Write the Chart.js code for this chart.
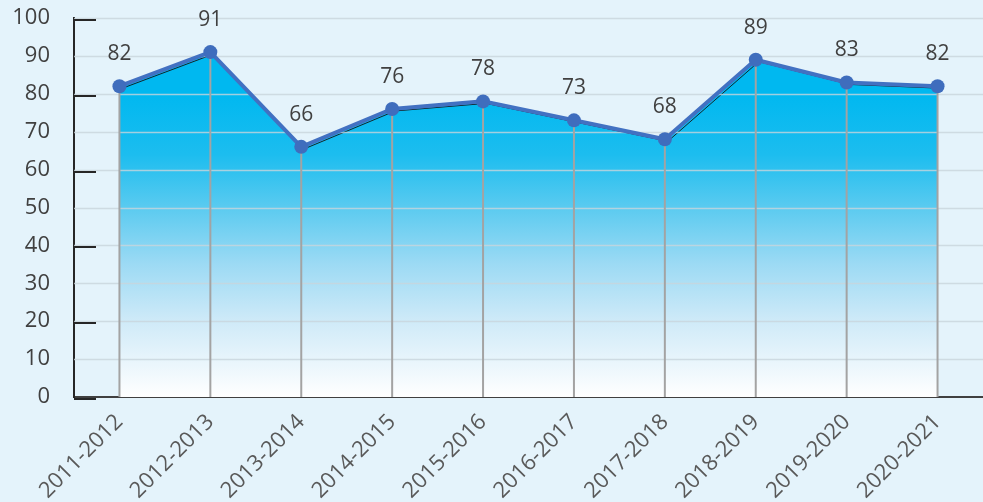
<!DOCTYPE html>
<html>
<head>
<meta charset="utf-8">
<script src="https://cdn.jsdelivr.net/npm/chart.js@4.4.1/dist/chart.umd.min.js"></script>
<style>
  html, body { margin: 0; padding: 0; background: #e4f3fb; }
  #wrap { width: 983px; height: 502px; }
</style>
</head>
<body>
<div id="wrap"><canvas id="areaChart" width="983" height="502"></canvas></div>
<script>
// data
const seasons = ['2011-2012', '2012-2013', '2013-2014', '2014-2015', '2015-2016',
                 '2016-2017', '2017-2018', '2018-2019', '2019-2020', '2020-2021'];
const scores = [82, 91, 66, 76, 78, 73, 68, 89, 83, 82];
const yTicks = [0, 10, 20, 30, 40, 50, 60, 70, 80, 90, 100];
const yMajor = [0, 20, 40, 60, 80, 100];

const FONT = "'Open Sans', 'DejaVu Sans', sans-serif";

// blue to white gradient under the line
function areaGradient(context) {
  const chart = context.chart;
  const area = chart.chartArea;
  if (!area) return '#00b8f0';
  const y = chart.scales.y;
  const g = chart.ctx.createLinearGradient(0, y.getPixelForValue(80), 0, y.getPixelForValue(0));
  g.addColorStop(0, '#00b8f0');
  g.addColorStop(0.2, '#1cbdef');
  g.addColorStop(0.38, '#5ccbf0');
  g.addColorStop(0.56, '#9cdaf4');
  g.addColorStop(0.75, '#cfeaf8');
  g.addColorStop(1, '#ffffff');
  return g;
}

// shadow on the area, grid + drop lines over the fill, value labels
const decoPlugin = {
  id: 'deco',
  beforeDatasetsDraw(chart) {
    const ctx = chart.ctx;
    ctx.save();
    ctx.shadowColor = 'rgba(20,20,20,0.9)';
    ctx.shadowOffsetX = 3;
    ctx.shadowOffsetY = 2;
    ctx.shadowBlur = 0;
  },
  afterDatasetDraw(chart, args) {
    if (args.index !== 1) return;
    const ctx = chart.ctx;
    ctx.restore();
    const a = chart.chartArea;
    const y = chart.scales.y;
    ctx.save();
    // horizontal grid lines
    ctx.strokeStyle = 'rgba(200,212,220,0.8)';
    ctx.lineWidth = 1.5;
    yTicks.forEach(v => {
      if (v === 0) return;
      const py = Math.round(y.getPixelForValue(v)) + 0.5;
      ctx.beginPath();
      ctx.moveTo(a.left, py);
      ctx.lineTo(a.right, py);
      ctx.stroke();
    });
    // drop lines from each point
    const meta = chart.getDatasetMeta(0);
    ctx.strokeStyle = '#a3a3a3';
    ctx.lineWidth = 2;
    meta.data.forEach(pt => {
      ctx.beginPath();
      ctx.moveTo(pt.x, pt.y);
      ctx.lineTo(pt.x, a.bottom);
      ctx.stroke();
    });
    // major tick marks inside the y axis
    ctx.strokeStyle = '#262626';
    ctx.lineWidth = 2;
    yMajor.forEach(v => {
      const py = Math.round(y.getPixelForValue(v)) + 2;
      ctx.beginPath();
      ctx.moveTo(a.left, py);
      ctx.lineTo(a.left + 22, py);
      ctx.stroke();
    });
    ctx.restore();
  },
  afterDatasetsDraw(chart) {
    const ctx = chart.ctx;
    const meta = chart.getDatasetMeta(0);
    ctx.save();
    ctx.font = '21px ' + FONT;
    ctx.fillStyle = '#404040';
    ctx.textAlign = 'center';
    ctx.textBaseline = 'middle';
    meta.data.forEach((pt, i) => {
      ctx.fillText(String(scores[i]), pt.x, pt.y - 32);
    });
    ctx.restore();
  }
};

new Chart(document.getElementById('areaChart'), {
  type: 'line',
  data: {
    labels: seasons,
    datasets: [
      {
        // the blue line with points
        data: scores,
        order: 1,
        borderColor: '#4271c2',
        borderWidth: 4,
        pointRadius: 7,
        pointBackgroundColor: '#3f6dbd',
        pointBorderColor: '#3f6dbd',
        pointBorderWidth: 0,
        fill: false,
        tension: 0
      },
      {
        // the filled area under it
        data: scores,
        order: 2,
        borderColor: '#1a1a1a',
        borderWidth: 1,
        pointRadius: 0,
        backgroundColor: areaGradient,
        fill: 'origin',
        tension: 0
      }
    ]
  },
  options: {
    responsive: false,
    animation: false,
    layout: { autoPadding: false, padding: { top: 18, right: 0, left: 0, bottom: 0 } },
    plugins: {
      legend: { display: false },
      tooltip: { enabled: false }
    },
    scales: {
      x: {
        offset: true,
        grid: { display: false },
        border: { display: true, color: '#404040', width: 2 },
        ticks: {
          autoSkip: false,
          minRotation: 45,
          maxRotation: 45,
          padding: 4,
          color: '#595959',
          font: { family: FONT, size: 22 }
        },
        afterFit(scale) {
          scale.height = 105;
          scale.paddingLeft = 0;
          scale.paddingRight = 0;
        }
      },
      y: {
        min: 0,
        max: 100,
        grid: { display: false, drawTicks: false },
        border: { display: true, color: '#262626', width: 2 },
        ticks: {
          stepSize: 10,
          padding: 24,
          color: '#404040',
          font: { family: FONT, size: 22 }
        },
        afterFit(scale) {
          scale.width = 74;
          scale.paddingTop = 0;
          scale.paddingBottom = 0;
        }
      }
    }
  },
  plugins: [decoPlugin]
});
</script>
</body>
</html>
